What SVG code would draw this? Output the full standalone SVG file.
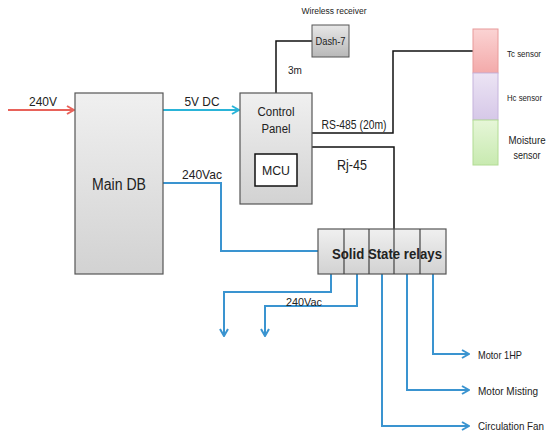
<svg xmlns="http://www.w3.org/2000/svg" width="550" height="443" viewBox="0 0 550 443">
<defs>
<linearGradient id="gray" x1="0" y1="0" x2="0" y2="1"><stop offset="0" stop-color="#f0f0f0"/><stop offset="1" stop-color="#d2d2d2"/></linearGradient>
<linearGradient id="dgray" x1="0" y1="0" x2="0" y2="1"><stop offset="0" stop-color="#e8e8e8"/><stop offset="1" stop-color="#b8b8b8"/></linearGradient>
<linearGradient id="pink" x1="0" y1="0" x2="0" y2="1"><stop offset="0" stop-color="#fbd3d3"/><stop offset="1" stop-color="#f3aaaa"/></linearGradient>
<linearGradient id="lav" x1="0" y1="0" x2="0" y2="1"><stop offset="0" stop-color="#ece4f4"/><stop offset="1" stop-color="#d6c8e8"/></linearGradient>
<linearGradient id="grn" x1="0" y1="0" x2="0" y2="1"><stop offset="0" stop-color="#e6f6d8"/><stop offset="1" stop-color="#c8eab0"/></linearGradient>
<marker id="ab" viewBox="0 0 10 10" refX="9" refY="5" markerWidth="10" markerHeight="10" markerUnits="userSpaceOnUse" orient="auto"><path d="M2,1 L9,5 L2,9" fill="none" stroke="#3a94d0" stroke-width="2"/></marker>
<marker id="ac" viewBox="0 0 10 10" refX="9" refY="5" markerWidth="10" markerHeight="10" markerUnits="userSpaceOnUse" orient="auto"><path d="M2,1 L9,5 L2,9" fill="none" stroke="#2ab4d8" stroke-width="2"/></marker>
<marker id="ar" viewBox="0 0 10 10" refX="9" refY="5" markerWidth="10" markerHeight="10" markerUnits="userSpaceOnUse" orient="auto"><path d="M2,1 L9,5 L2,9" fill="none" stroke="#e8625a" stroke-width="2"/></marker>
</defs>
<style>
text{font-family:"Liberation Sans",Arial,sans-serif;fill:#222}
.box{fill:url(#gray);stroke:#555;stroke-width:1.2}
.blue{fill:none;stroke:#3a94d0;stroke-width:2}
.blk{fill:none;stroke:#111;stroke-width:1.5}
.sm{font-size:10px}
</style>
<g id="connectors">
<line x1="8" y1="110" x2="74" y2="110" stroke="#e8625a" stroke-width="2.2" marker-end="url(#ar)"/>
<line x1="163" y1="110" x2="239" y2="110" stroke="#2ab4d8" stroke-width="2.2" marker-end="url(#ac)"/>
<polyline class="blue" points="163,183 221,183 221,251 318,251"/>
<polyline class="blk" points="312,41 276,41 276,93"/>
<polyline class="blk" points="312,133 393,133 393,51 473,51"/>
<polyline class="blk" points="312,147 394,147 394,229"/>
<polyline class="blue" points="331,274 331,292 224,292 224,336" marker-end="url(#ab)"/>
<polyline class="blue" points="357,274 357,306 265,306 265,336" marker-end="url(#ab)"/>
<polyline class="blue" points="433,274 433,354 469,354" marker-end="url(#ab)"/>
<polyline class="blue" points="407,274 407,390 469,390" marker-end="url(#ab)"/>
<polyline class="blue" points="382,274 382,426 469,426" marker-end="url(#ab)"/>
<text x="43" y="106" text-anchor="middle" font-size="13" textLength="28" lengthAdjust="spacingAndGlyphs">240V</text>
<text x="202" y="106" text-anchor="middle" font-size="13" textLength="35" lengthAdjust="spacingAndGlyphs">5V DC</text>
<text x="202" y="179" text-anchor="middle" font-size="13" textLength="40" lengthAdjust="spacingAndGlyphs">240Vac</text>
<text x="288" y="74" class="sm">3m</text>
<text x="354" y="129" text-anchor="middle" font-size="12" textLength="65" lengthAdjust="spacingAndGlyphs">RS-485 (20m)</text>
<text x="352" y="170" text-anchor="middle" font-size="15" textLength="30" lengthAdjust="spacingAndGlyphs">Rj-45</text>
<text x="304" y="306" text-anchor="middle" font-size="11" textLength="36" lengthAdjust="spacingAndGlyphs">240Vac</text>
</g>
<g id="main-db">
<rect x="75" y="93" width="88" height="181" class="box"/>
<text x="119" y="190" text-anchor="middle" font-size="16" textLength="54" lengthAdjust="spacingAndGlyphs">Main DB</text>
</g>
<g id="control-panel">
<rect x="240" y="93" width="72" height="111" class="box"/>
<text x="276" y="116" text-anchor="middle" font-size="12" textLength="37" lengthAdjust="spacingAndGlyphs">Control</text>
<text x="276" y="133" text-anchor="middle" font-size="12" textLength="29" lengthAdjust="spacingAndGlyphs">Panel</text>
</g>
<g id="mcu">
<rect x="255" y="154" width="42" height="32" fill="#fff" stroke="#111" stroke-width="1.5"/>
<text x="276" y="175" text-anchor="middle" font-size="13" textLength="28" lengthAdjust="spacingAndGlyphs">MCU</text>
</g>
<g id="dash7">
<rect x="312" y="25" width="37" height="32" fill="url(#dgray)" stroke="#555" stroke-width="1"/>
<text x="330.5" y="45" text-anchor="middle" font-size="10" textLength="30" lengthAdjust="spacingAndGlyphs">Dash-7</text>
<text x="334" y="14" text-anchor="middle" font-size="8.5" textLength="65" lengthAdjust="spacingAndGlyphs">Wireless receiver</text>
</g>
<g id="tc-sensor">
<rect x="473" y="29" width="25" height="44" fill="url(#pink)" stroke="#e89a9a" stroke-width="1"/>
<text x="507" y="57" font-size="9.5" textLength="34" lengthAdjust="spacingAndGlyphs">Tc sensor</text>
</g>
<g id="hc-sensor">
<rect x="473" y="73" width="25" height="47" fill="url(#lav)" stroke="#c6b4dc" stroke-width="1"/>
<text x="507" y="101" font-size="9.5" textLength="35" lengthAdjust="spacingAndGlyphs">Hc sensor</text>
</g>
<g id="moisture-sensor">
<rect x="473" y="120" width="25" height="45" fill="url(#grn)" stroke="#b2dc94" stroke-width="1"/>
<text x="527" y="144" text-anchor="middle" font-size="10.5" textLength="37" lengthAdjust="spacingAndGlyphs">Moisture</text>
<text x="527" y="159" text-anchor="middle" font-size="10.5" textLength="27" lengthAdjust="spacingAndGlyphs">sensor</text>
</g>
<g id="ssr">
<rect x="318" y="229" width="128" height="45" class="box"/>
<line x1="344" y1="229" x2="344" y2="274" stroke="#444" stroke-width="1.2"/>
<line x1="369" y1="229" x2="369" y2="274" stroke="#444" stroke-width="1.2"/>
<line x1="394" y1="229" x2="394" y2="274" stroke="#444" stroke-width="1.2"/>
<line x1="420" y1="229" x2="420" y2="274" stroke="#444" stroke-width="1.2"/>
<text x="387" y="259" text-anchor="middle" font-size="15" font-weight="bold" textLength="110" lengthAdjust="spacingAndGlyphs">Solid State relays</text>
</g>
<g id="outputs">
<text x="478" y="359" font-size="10.5" textLength="44" lengthAdjust="spacingAndGlyphs">Motor 1HP</text>
<text x="478" y="395" font-size="10.5" textLength="60" lengthAdjust="spacingAndGlyphs">Motor Misting</text>
<text x="478" y="430" font-size="10" textLength="66" lengthAdjust="spacingAndGlyphs">Circulation Fan</text>
</g>
</svg>
